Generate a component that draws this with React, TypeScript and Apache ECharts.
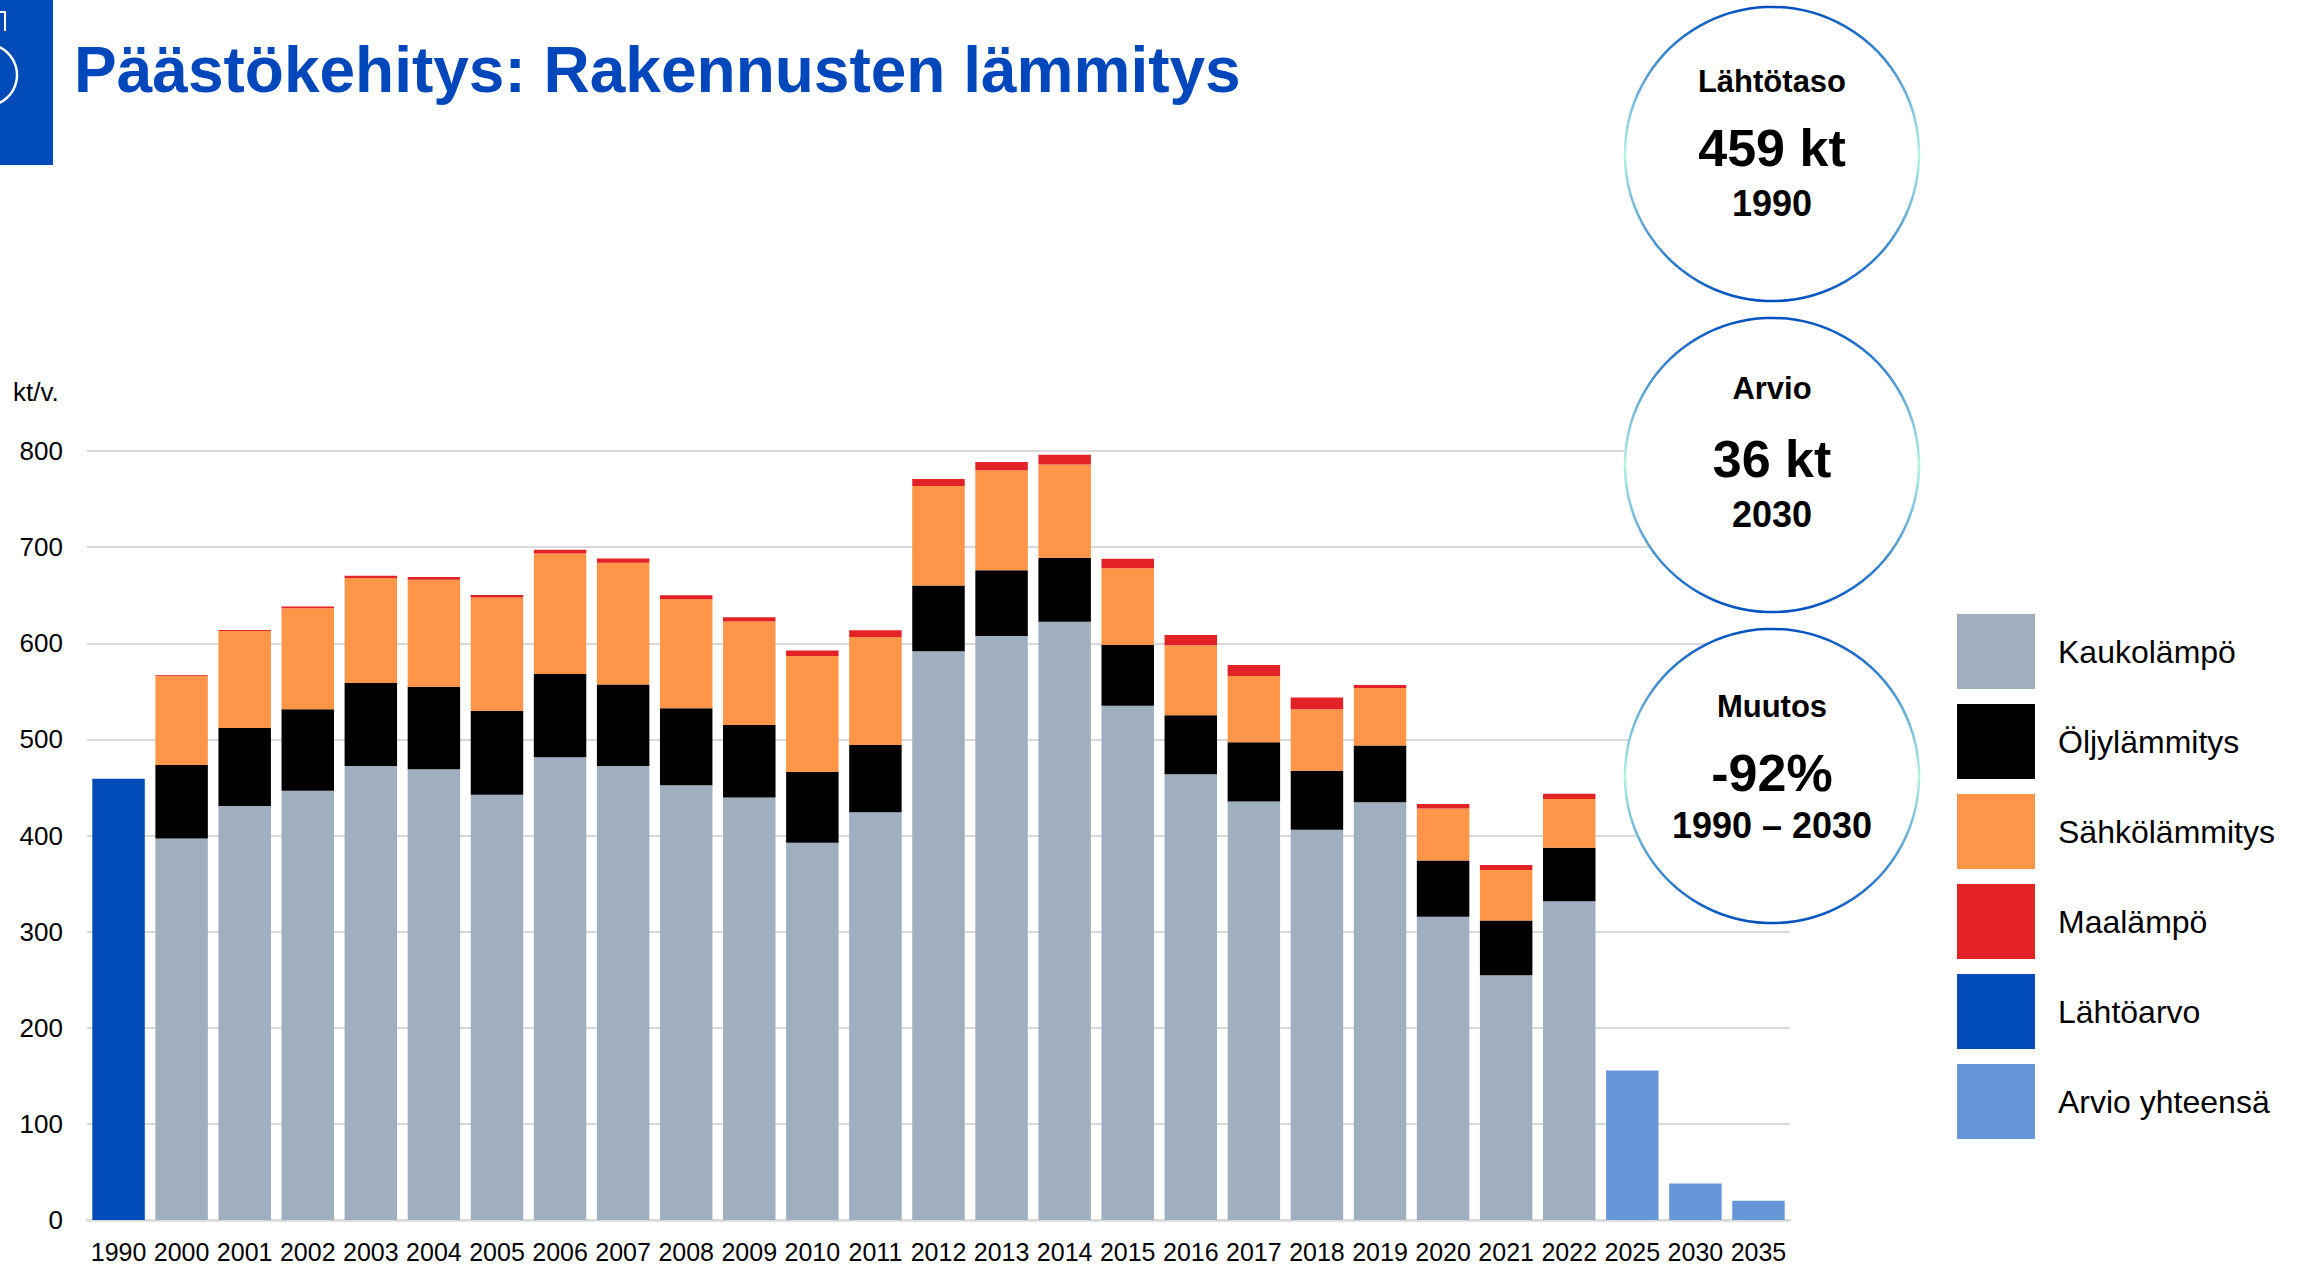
import React, { useEffect, useRef } from "react";
import * as echarts from "echarts";

const years = ["1990","2000","2001","2002","2003","2004","2005","2006","2007","2008","2009","2010","2011","2012","2013","2014","2015","2016","2017","2018","2019","2020","2021","2022","2025","2030","2035"];

// 2000..2022 component values (kt/v.)
const kaukolampo = [397, 430.6, 446.5, 472.2, 468.8, 442.4, 481.3, 472.2, 452.4, 439.6, 392.4, 424.3, 591.6, 607.5, 622.4, 535, 463.6, 435.5, 406, 434.5, 315.5, 254.5, 331.5];
const oljylammitys = [76.4, 81.2, 84.8, 86.5, 85.7, 87.1, 86.7, 84.8, 79.9, 75.3, 73.6, 69.8, 68.4, 68.5, 66.6, 63.5, 61.4, 61.5, 61.4, 59, 58.5, 57, 55.8];
const sahkolammitys = [92.7, 101, 105.2, 109.3, 111.5, 118.1, 125.4, 126.7, 113.5, 107.7, 120.8, 112.5, 103.5, 104, 97, 79.5, 73, 69, 64, 60, 54, 52.6, 50.7];
const maalampo = [1, 1, 1.7, 2.1, 2.8, 2.7, 3.8, 4.5, 4.2, 4.5, 5.6, 6.9, 7.5, 8.5, 10, 10, 10.5, 11.3, 12.2, 3, 4.7, 5.3, 5.5];
const lahtoarvo = [459];
const arvioYhteensa = [155.5, 38, 20];

const yTicks = [0, 100, 200, 300, 400, 500, 600, 700, 800];

const seriesNames = ["Kaukolämpö", "Öljylämmitys", "Sähkölämmitys", "Maalämpö", "Lähtöarvo", "Arvio yhteensä"];
const seriesColors = ["#9FAFBF", "#000000", "#FF9548", "#E32226", "#004BB8", "#6797D8"];

const circles = [
  { title: "Lähtötaso", big: "459 kt", sub: "1990" },
  { title: "Arvio", big: "36 kt", sub: "2030" },
  { title: "Muutos", big: "-92%", sub: "1990 – 2030" },
];

const FONT = '"Liberation Sans", Arial, Helvetica, sans-serif';

function historical(vals: number[]) {
  return [null, ...vals, null, null, null];
}

export default function App() {
  const ref = useRef<HTMLDivElement>(null);
  useEffect(() => {
    document.body.style.margin = "0";
    if (!ref.current) return;
    const chart = echarts.init(ref.current, null, { renderer: "svg" });

    const dataSets = [
      historical(kaukolampo),
      historical(oljylammitys),
      historical(sahkolammitys),
      historical(maalampo),
      [lahtoarvo[0], ...new Array(26).fill(null)],
      [...new Array(24).fill(null), ...arvioYhteensa],
    ];

    const cx = 1772;
    const cys = [154, 465, 776];
    const titleOff = [-73, -77, -70];
    const bigOff = [-6, -6, -3];
    const circleGraphics: any[] = [];
    circles.forEach((c, i) => {
      const cy = cys[i];
      circleGraphics.push({
        type: "circle",
        z: 100,
        shape: { cx, cy, r: 147 },
        style: {
          fill: "#ffffff",
          lineWidth: 2.5,
          stroke: new echarts.graphic.LinearGradient(0, 0, 0, 1, [
            { offset: 0, color: "#0050C0" },
            { offset: 0.5, color: "#B5F5E2" },
            { offset: 1, color: "#0050C0" },
          ]),
        },
      });
      circleGraphics.push({
        type: "text", z: 101, x: cx, y: cy + titleOff[i],
        style: { text: c.title, fill: "#000", font: `bold 31px ${FONT}`, align: "center", verticalAlign: "middle" },
      });
      circleGraphics.push({
        type: "text", z: 101, x: cx, y: cy + bigOff[i],
        style: { text: c.big, fill: "#000", font: `bold 52px ${FONT}`, align: "center", verticalAlign: "middle" },
      });
      circleGraphics.push({
        type: "text", z: 101, x: cx, y: cy + 49,
        style: { text: c.sub, fill: "#000", font: `bold 36px ${FONT}`, align: "center", verticalAlign: "middle" },
      });
    });

    chart.setOption({
      animation: false,
      backgroundColor: "#ffffff",
      textStyle: { fontFamily: FONT },
      grid: { left: 87, right: 520, top: 451, bottom: 48, containLabel: false },
      legend: {
        orient: "vertical",
        left: 1952,
        top: 609,
        itemWidth: 78,
        itemHeight: 75,
        itemGap: 15,
        icon: "rect",
        selectedMode: false,
        data: seriesNames,
        textStyle: { fontSize: 32, color: "#000", fontFamily: FONT, padding: [0, 0, 0, 18] },
      },
      xAxis: {
        type: "category",
        data: years,
        axisTick: { show: false },
        axisLine: { lineStyle: { color: "#D9D9D9", width: 2.5 } },
        axisLabel: { interval: 0, fontSize: 25, color: "#000", margin: 19, fontFamily: FONT },
      },
      yAxis: {
        type: "value",
        min: yTicks[0],
        max: yTicks[yTicks.length - 1],
        interval: 100,
        axisLine: { show: false },
        axisTick: { show: false },
        splitLine: { lineStyle: { color: "#D9D9D9", width: 2 } },
        axisLabel: { fontSize: 26, color: "#000", margin: 24, fontFamily: FONT },
      },
      series: seriesNames.map((name, i) => ({
        name,
        type: "bar",
        stack: "total",
        barCategoryGap: "16.8%",
        data: dataSets[i],
        itemStyle: { color: seriesColors[i] },
      })),
      graphic: [
        { type: "rect", z: 50, shape: { x: 0, y: 0, width: 53, height: 165 }, style: { fill: "#004BB8" } },
        {
          type: "arc", z: 51,
          shape: { cx: -14, cy: 75, r: 31, startAngle: -Math.PI * 0.4, endAngle: Math.PI * 0.5 },
          style: { stroke: "#ffffff", lineWidth: 2.5, fill: "none" },
        },
        {
          type: "polyline", z: 51,
          shape: { points: [[0, 12], [5, 12], [5, 31]] },
          style: { stroke: "#ffffff", lineWidth: 2, fill: "none" },
        },
        {
          type: "text", z: 51, x: 74, y: 102,
          style: { text: "Päästökehitys: Rakennusten lämmitys", fill: "#0047BB", font: `bold 64px ${FONT}`, align: "left", verticalAlign: "bottom" },
        },
        {
          type: "text", z: 51, x: 13, y: 392,
          style: { text: "kt/v.", fill: "#000", font: `26px ${FONT}`, align: "left", verticalAlign: "middle" },
        },
        ...circleGraphics,
      ],
    });
    return () => chart.dispose();
  }, []);
  return <div ref={ref} style={{ width: 2310, height: 1268 }} />;
}
